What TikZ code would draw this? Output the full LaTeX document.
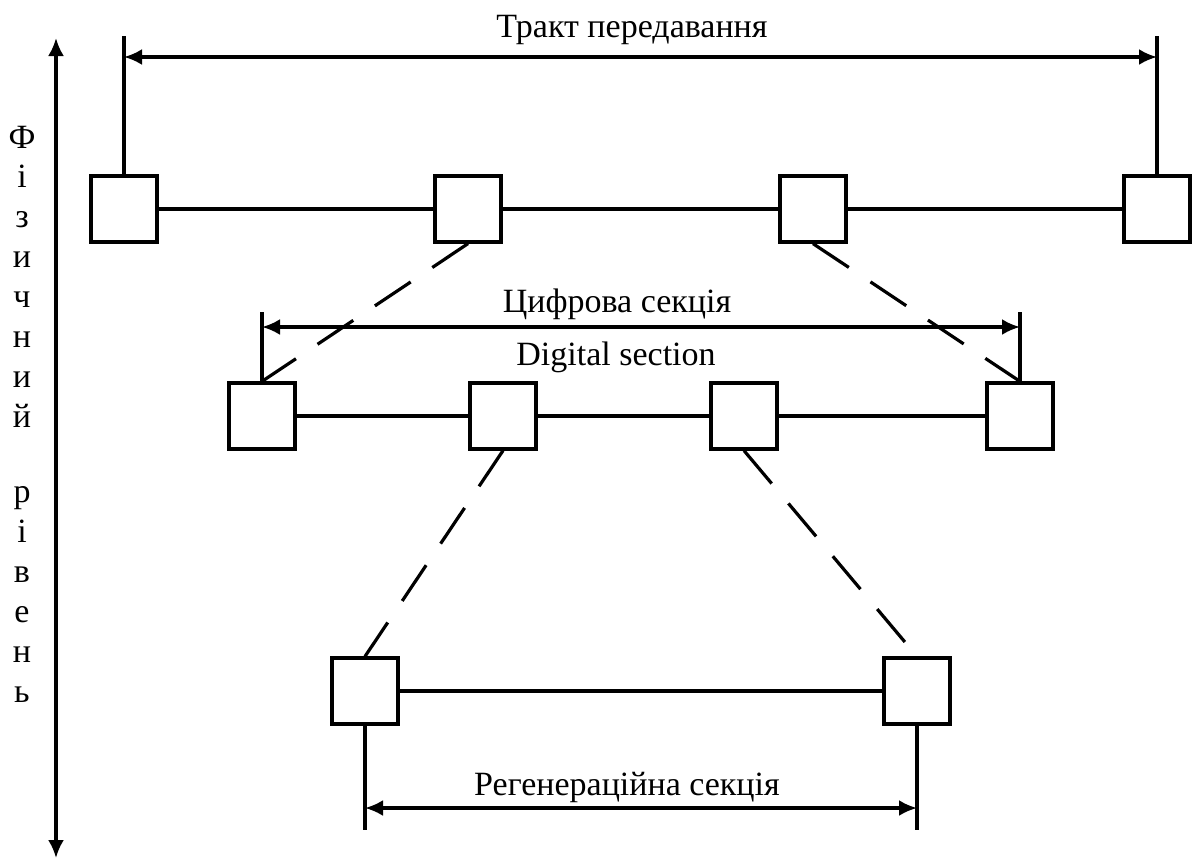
\documentclass[tikz,border=0pt]{standalone}
\usepackage{fontspec}
\setmainfont{Liberation Serif}
\usetikzlibrary{arrows.meta}

\tikzset{
  blk/.style={draw, fill=white, minimum size=33pt, inner sep=0pt},
  lbl/.style={inner sep=0pt, anchor=base},
  dashln/.style={dash pattern=on 21.5pt off 13pt},
  dim/.style={{Latex[length=9pt,width=8pt]}-{Latex[length=9pt,width=8pt]}}
}

\begin{document}
\begin{tikzpicture}[x=0.5pt, y=-0.5pt, line width=1.6pt, font=\fontsize{17}{20}\selectfont]
        \useasboundingbox (0,0) rectangle (1192,859);

        % physical level axis
        \coordinate (ax1) at (56,38);
        \coordinate (ax2) at (56,858);
        \draw[dim] (ax1) -- (ax2);
        \foreach \ch/\yb [count=\i] in {Ф/148, і/187, з/227, и/267, ч/307, н/347, и/387, й/427,
                                        р/502, і/542, в/582, е/622, н/662, ь/702}
          \node[lbl] (v\i) at (22,\yb) {\ch};

        % transmission path
        \node[blk] (t1) at (124,209) {};
        \node[blk] (t2) at (468,209) {};
        \node[blk] (t3) at (813,209) {};
        \node[blk] (t4) at (1157,209) {};
        \draw (t1) -- (t2) -- (t3) -- (t4);

        \coordinate (ttop) at (0,36);
        \coordinate (tarr) at (0,57);
        \draw (t1.north) -- (t1.north |- ttop);
        \draw (t4.north) -- (t4.north |- ttop);
        \draw[dim] (t1.north |- tarr) -- (t4.north |- tarr);
        \node[lbl] (ttl) at (632,37) {Тракт передавання};

        % digital section
        \node[blk] (m1) at (262,416) {};
        \node[blk] (m2) at (503,416) {};
        \node[blk] (m3) at (744,416) {};
        \node[blk] (m4) at (1020,416) {};
        \draw (m1) -- (m2) -- (m3) -- (m4);

        \coordinate (mtop) at (0,312);
        \coordinate (marr) at (0,327);
        \draw (m1.north) -- (m1.north |- mtop);
        \draw (m4.north) -- (m4.north |- mtop);
        \draw[dim] (m1.north |- marr) -- (m4.north |- marr);
        \node[lbl] (mttl) at (617,312) {Цифрова секція};
        \node[lbl] (mttl2) at (616,365) {Digital section};

        \draw[dashln] (t2.south) -- (m1.north);
        \draw[dashln] (t3.south) -- (m4.north);

        % regeneration section
        \node[blk] (r1) at (365,691) {};
        \node[blk] (r2) at (917,691) {};
        \draw (r1) -- (r2);

        \coordinate (rbot) at (0,830);
        \coordinate (rarr) at (0,808);
        \draw (r1.south) -- (r1.south |- rbot);
        \draw (r2.south) -- (r2.south |- rbot);
        \draw[dim] (r1.south |- rarr) -- (r2.south |- rarr);
        \node[lbl] (rttl) at (627,795) {Регенераційна секція};

        \draw[dashln] (m2.south) -- (r1.north);
        \draw[dashln] (m3.south) -- (r2.north);
\end{tikzpicture}
\end{document}
